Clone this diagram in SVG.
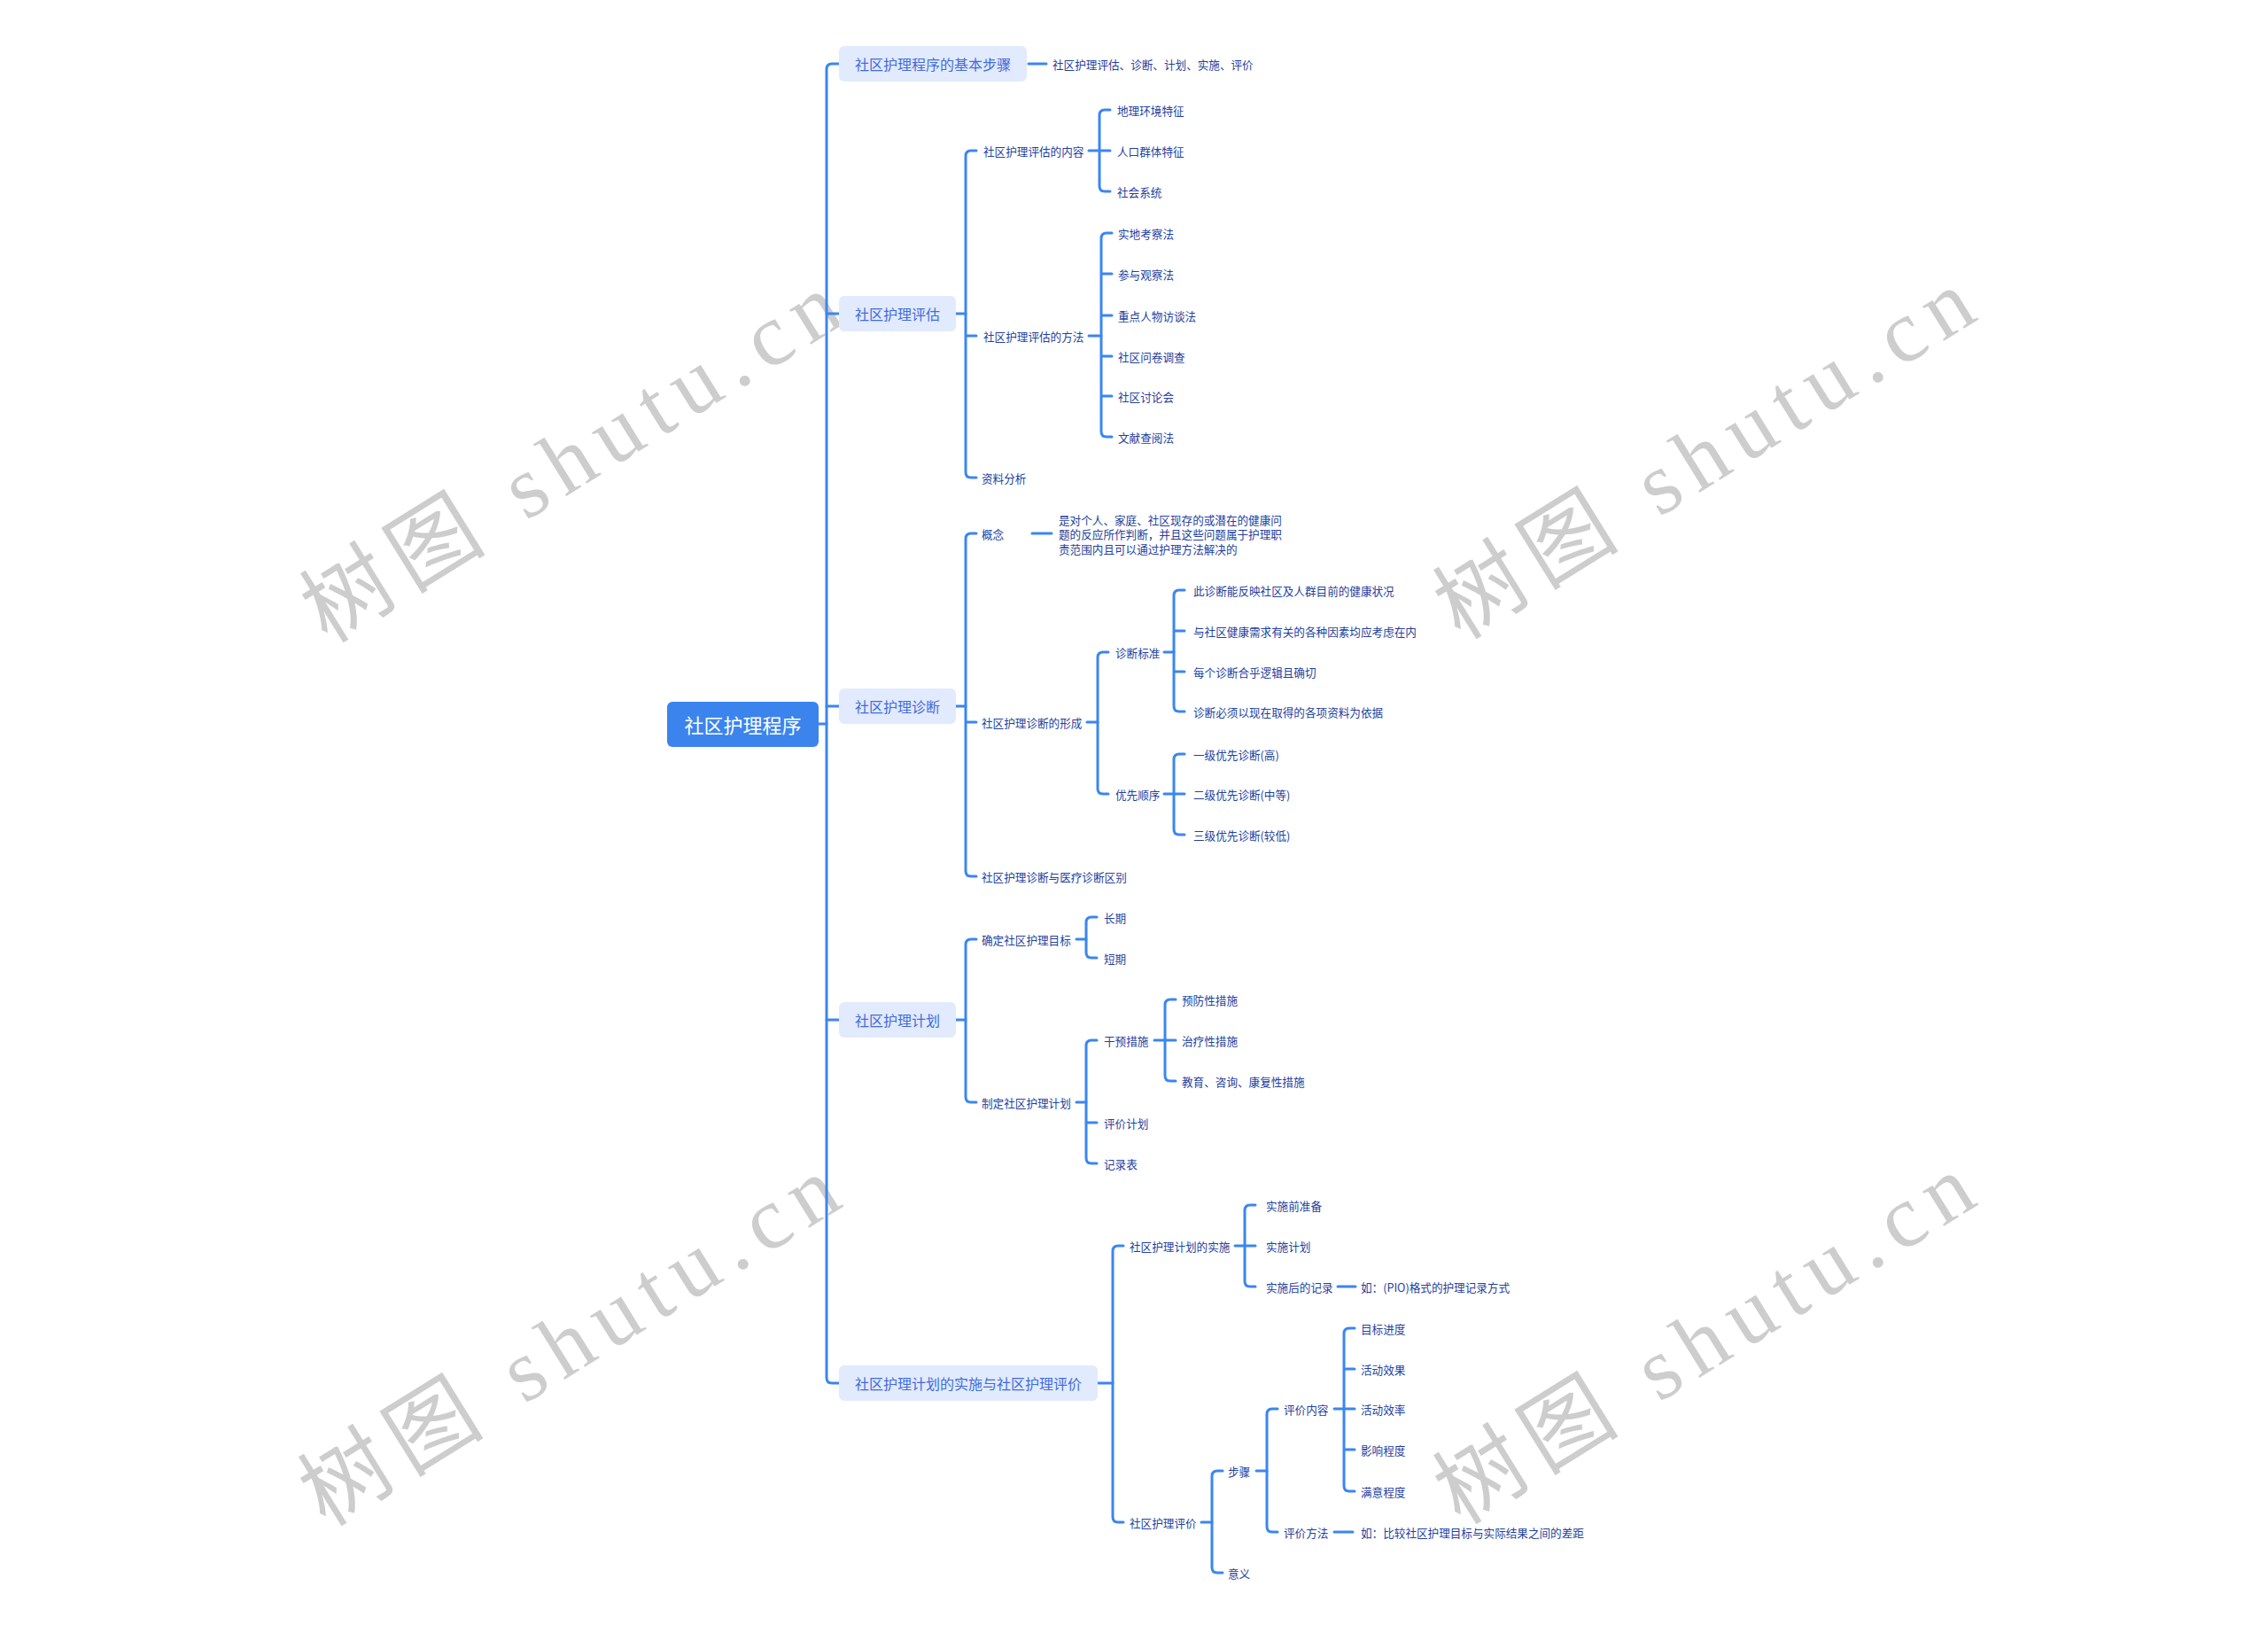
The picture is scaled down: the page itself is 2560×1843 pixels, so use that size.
<svg xmlns="http://www.w3.org/2000/svg" width="2560" height="1843" viewBox="0 0 2560 1843">
<style>
.bg{fill:#ffffff}
.wm{fill:#cdcdcd;font-family:"Liberation Serif","Noto Sans CJK SC",serif;font-size:100px}
.ln{fill:none;stroke:#3b86f0;stroke-width:3;stroke-linecap:round;stroke-linejoin:round}
.rootbox{fill:#3b84ee}
.roottx{fill:#ffffff;font-family:"Noto Sans CJK SC","Noto Sans",sans-serif;font-size:22px;dominant-baseline:central;text-anchor:middle}
.brbox{fill:#e2eafd}
.brtx{fill:#3f6cdc;font-family:"Noto Sans CJK SC","Noto Sans",sans-serif;font-size:16px;dominant-baseline:central}
.lf{fill:#23409e;font-family:"Noto Sans CJK SC","Noto Sans",sans-serif;font-size:12.6px;dominant-baseline:central}
</style>
<rect class="bg" x="0" y="0" width="2560" height="1843"/>
<g id="watermarks">
<text class="wm" x="645" y="517" text-anchor="middle" dominant-baseline="central" textLength="690" lengthAdjust="spacing" transform="rotate(-31.8 645 517)">树图 shutu.cn</text>
<text class="wm" x="1924" y="513" text-anchor="middle" dominant-baseline="central" textLength="690" lengthAdjust="spacing" transform="rotate(-31.8 1924 513)">树图 shutu.cn</text>
<text class="wm" x="643" y="1514" text-anchor="middle" dominant-baseline="central" textLength="690" lengthAdjust="spacing" transform="rotate(-31.8 643 1514)">树图 shutu.cn</text>
<text class="wm" x="1924" y="1512" text-anchor="middle" dominant-baseline="central" textLength="690" lengthAdjust="spacing" transform="rotate(-31.8 1924 1512)">树图 shutu.cn</text>
</g>
<g id="connectors" class="ln">
<path d="M924,817 H933"/>
<path d="M947,72 H939 Q933,72 933,78 V1555 Q933,1561 939,1561 H947"/>
<path d="M933,354 H947 M933,797 H947 M933,1151 H947"/>
<path d="M1161,72 H1181"/>
<path d="M1079,354 H1090"/>
<path d="M1102,170 H1096 Q1090,170 1090,176 V533 Q1090,539 1096,539 H1102 M1090,379 H1102"/>
<path d="M1229,170 H1241"/>
<path d="M1253,124 H1247 Q1241,124 1241,130 V210 Q1241,216 1247,216 H1253 M1241,170 H1253"/>
<path d="M1229,379 H1243"/>
<path d="M1255,263 H1249 Q1243,263 1243,269 V487 Q1243,493 1249,493 H1255 M1243,309 H1255 M1243,356 H1255 M1243,402 H1255 M1243,447 H1255"/>
<path d="M1079,797 H1090"/>
<path d="M1102,602 H1096 Q1090,602 1090,608 V983 Q1090,989 1096,989 H1102 M1090,815 H1102"/>
<path d="M1165,602 H1187"/>
<path d="M1227,815 H1239"/>
<path d="M1251,736 H1245 Q1239,736 1239,742 V890 Q1239,896 1245,896 H1251"/>
<path d="M1314,736 H1325"/>
<path d="M1337,666 H1331 Q1325,666 1325,672 V797 Q1325,803 1331,803 H1337 M1325,712 H1337 M1325,758 H1337"/>
<path d="M1314,896 H1325"/>
<path d="M1337,851 H1331 Q1325,851 1325,857 V936 Q1325,942 1331,942 H1337 M1325,896 H1337"/>
<path d="M1079,1151 H1090"/>
<path d="M1102,1060 H1096 Q1090,1060 1090,1066 V1238 Q1090,1244 1096,1244 H1102"/>
<path d="M1215,1060 H1226"/>
<path d="M1238,1035 H1232 Q1226,1035 1226,1041 V1075 Q1226,1081 1232,1081 H1238"/>
<path d="M1215,1244 H1226"/>
<path d="M1238,1174 H1232 Q1226,1174 1226,1180 V1307 Q1226,1313 1232,1313 H1238 M1226,1267 H1238"/>
<path d="M1303,1174 H1315"/>
<path d="M1327,1128 H1321 Q1315,1128 1315,1134 V1214 Q1315,1220 1321,1220 H1327 M1315,1174 H1327"/>
<path d="M1239,1561 H1256"/>
<path d="M1268,1406 H1262 Q1256,1406 1256,1412 V1712 Q1256,1718 1262,1718 H1268"/>
<path d="M1394,1406 H1405"/>
<path d="M1417,1360 H1411 Q1405,1360 1405,1366 V1446 Q1405,1452 1411,1452 H1417 M1405,1406 H1417"/>
<path d="M1510,1452 H1530"/>
<path d="M1356,1718 H1368"/>
<path d="M1380,1660 H1374 Q1368,1660 1368,1666 V1769 Q1368,1775 1374,1775 H1380"/>
<path d="M1418,1660 H1430"/>
<path d="M1442,1590 H1436 Q1430,1590 1430,1596 V1723 Q1430,1729 1436,1729 H1442"/>
<path d="M1506,1590 H1517"/>
<path d="M1529,1499 H1523 Q1517,1499 1517,1505 V1677 Q1517,1683 1523,1683 H1529 M1517,1545 H1529 M1517,1590 H1529 M1517,1636 H1529"/>
<path d="M1506,1729 H1527"/>
</g>
<g id="root"><rect class="rootbox" x="753" y="792" width="171" height="51" rx="6"/><text class="roottx" x="838.5" y="817">社区护理程序</text></g>
<g id="b1"><rect class="brbox" x="947" y="52" width="212" height="40" rx="6"/><text class="brtx" x="965" y="72">社区护理程序的基本步骤</text></g>
<g id="b1c1"><text class="lf" x="1188" y="72">社区护理评估、诊断、计划、实施、评价</text></g>
<g id="b2"><rect class="brbox" x="947" y="334" width="132" height="40" rx="6"/><text class="brtx" x="965" y="354">社区护理评估</text></g>
<g id="b2c1"><text class="lf" x="1110" y="170">社区护理评估的内容</text></g>
<g id="b2c1a"><text class="lf" x="1261" y="124">地理环境特征</text></g>
<g id="b2c1b"><text class="lf" x="1261" y="170">人口群体特征</text></g>
<g id="b2c1c"><text class="lf" x="1261" y="216">社会系统</text></g>
<g id="b2c2"><text class="lf" x="1110" y="379">社区护理评估的方法</text></g>
<g id="b2c2a"><text class="lf" x="1262" y="263">实地考察法</text></g>
<g id="b2c2b"><text class="lf" x="1262" y="309">参与观察法</text></g>
<g id="b2c2c"><text class="lf" x="1262" y="356">重点人物访谈法</text></g>
<g id="b2c2d"><text class="lf" x="1262" y="402">社区问卷调查</text></g>
<g id="b2c2e"><text class="lf" x="1262" y="447">社区讨论会</text></g>
<g id="b2c2f"><text class="lf" x="1262" y="493">文献查阅法</text></g>
<g id="b2c3"><text class="lf" x="1108" y="539">资料分析</text></g>
<g id="b3"><rect class="brbox" x="947" y="777" width="132" height="40" rx="6"/><text class="brtx" x="965" y="797">社区护理诊断</text></g>
<g id="b3c1"><text class="lf" x="1108" y="602">概念</text></g>
<g id="b3c1a"><text class="lf" x="1195" y="586">是对个人、家庭、社区现存的或潜在的健康问</text><text class="lf" x="1195" y="602">题的反应所作判断，并且这些问题属于护理职</text><text class="lf" x="1195" y="619">责范围内且可以通过护理方法解决的</text></g>
<g id="b3c2"><text class="lf" x="1108" y="815">社区护理诊断的形成</text></g>
<g id="b3c2a"><text class="lf" x="1259" y="736">诊断标准</text></g>
<g id="b3c2a1"><text class="lf" x="1347" y="666">此诊断能反映社区及人群目前的健康状况</text></g>
<g id="b3c2a2"><text class="lf" x="1347" y="712">与社区健康需求有关的各种因素均应考虑在内</text></g>
<g id="b3c2a3"><text class="lf" x="1347" y="758">每个诊断合乎逻辑且确切</text></g>
<g id="b3c2a4"><text class="lf" x="1347" y="803">诊断必须以现在取得的各项资料为依据</text></g>
<g id="b3c2b"><text class="lf" x="1259" y="896">优先顺序</text></g>
<g id="b3c2b1"><text class="lf" x="1347" y="851">一级优先诊断(高)</text></g>
<g id="b3c2b2"><text class="lf" x="1347" y="896">二级优先诊断(中等)</text></g>
<g id="b3c2b3"><text class="lf" x="1347" y="942">三级优先诊断(较低)</text></g>
<g id="b3c3"><text class="lf" x="1108" y="989">社区护理诊断与医疗诊断区别</text></g>
<g id="b4"><rect class="brbox" x="947" y="1131" width="132" height="40" rx="6"/><text class="brtx" x="965" y="1151">社区护理计划</text></g>
<g id="b4c1"><text class="lf" x="1108" y="1060">确定社区护理目标</text></g>
<g id="b4c1a"><text class="lf" x="1246" y="1035">长期</text></g>
<g id="b4c1b"><text class="lf" x="1246" y="1081">短期</text></g>
<g id="b4c2"><text class="lf" x="1108" y="1244">制定社区护理计划</text></g>
<g id="b4c2a"><text class="lf" x="1246" y="1174">干预措施</text></g>
<g id="b4c2a1"><text class="lf" x="1334" y="1128">预防性措施</text></g>
<g id="b4c2a2"><text class="lf" x="1334" y="1174">治疗性措施</text></g>
<g id="b4c2a3"><text class="lf" x="1334" y="1220">教育、咨询、康复性措施</text></g>
<g id="b4c2b"><text class="lf" x="1246" y="1267">评价计划</text></g>
<g id="b4c2c"><text class="lf" x="1246" y="1313">记录表</text></g>
<g id="b5"><rect class="brbox" x="947" y="1541" width="292" height="40" rx="6"/><text class="brtx" x="965" y="1561">社区护理计划的实施与社区护理评价</text></g>
<g id="b5c1"><text class="lf" x="1275" y="1406">社区护理计划的实施</text></g>
<g id="b5c1a"><text class="lf" x="1429" y="1360">实施前准备</text></g>
<g id="b5c1b"><text class="lf" x="1429" y="1406">实施计划</text></g>
<g id="b5c1c"><text class="lf" x="1429" y="1452">实施后的记录</text></g>
<g id="b5c1c1"><text class="lf" x="1536" y="1452">如：(PIO)格式的护理记录方式</text></g>
<g id="b5c2"><text class="lf" x="1275" y="1718">社区护理评价</text></g>
<g id="b5c2a"><text class="lf" x="1386" y="1660">步骤</text></g>
<g id="b5c2a1"><text class="lf" x="1449" y="1590">评价内容</text></g>
<g id="b5c2a1a"><text class="lf" x="1536" y="1499">目标进度</text></g>
<g id="b5c2a1b"><text class="lf" x="1536" y="1545">活动效果</text></g>
<g id="b5c2a1c"><text class="lf" x="1536" y="1590">活动效率</text></g>
<g id="b5c2a1d"><text class="lf" x="1536" y="1636">影响程度</text></g>
<g id="b5c2a1e"><text class="lf" x="1536" y="1683">满意程度</text></g>
<g id="b5c2a2"><text class="lf" x="1449" y="1729">评价方法</text></g>
<g id="b5c2a2a"><text class="lf" x="1536" y="1729">如：比较社区护理目标与实际结果之间的差距</text></g>
<g id="b5c2b"><text class="lf" x="1386" y="1775">意义</text></g>
</svg>
